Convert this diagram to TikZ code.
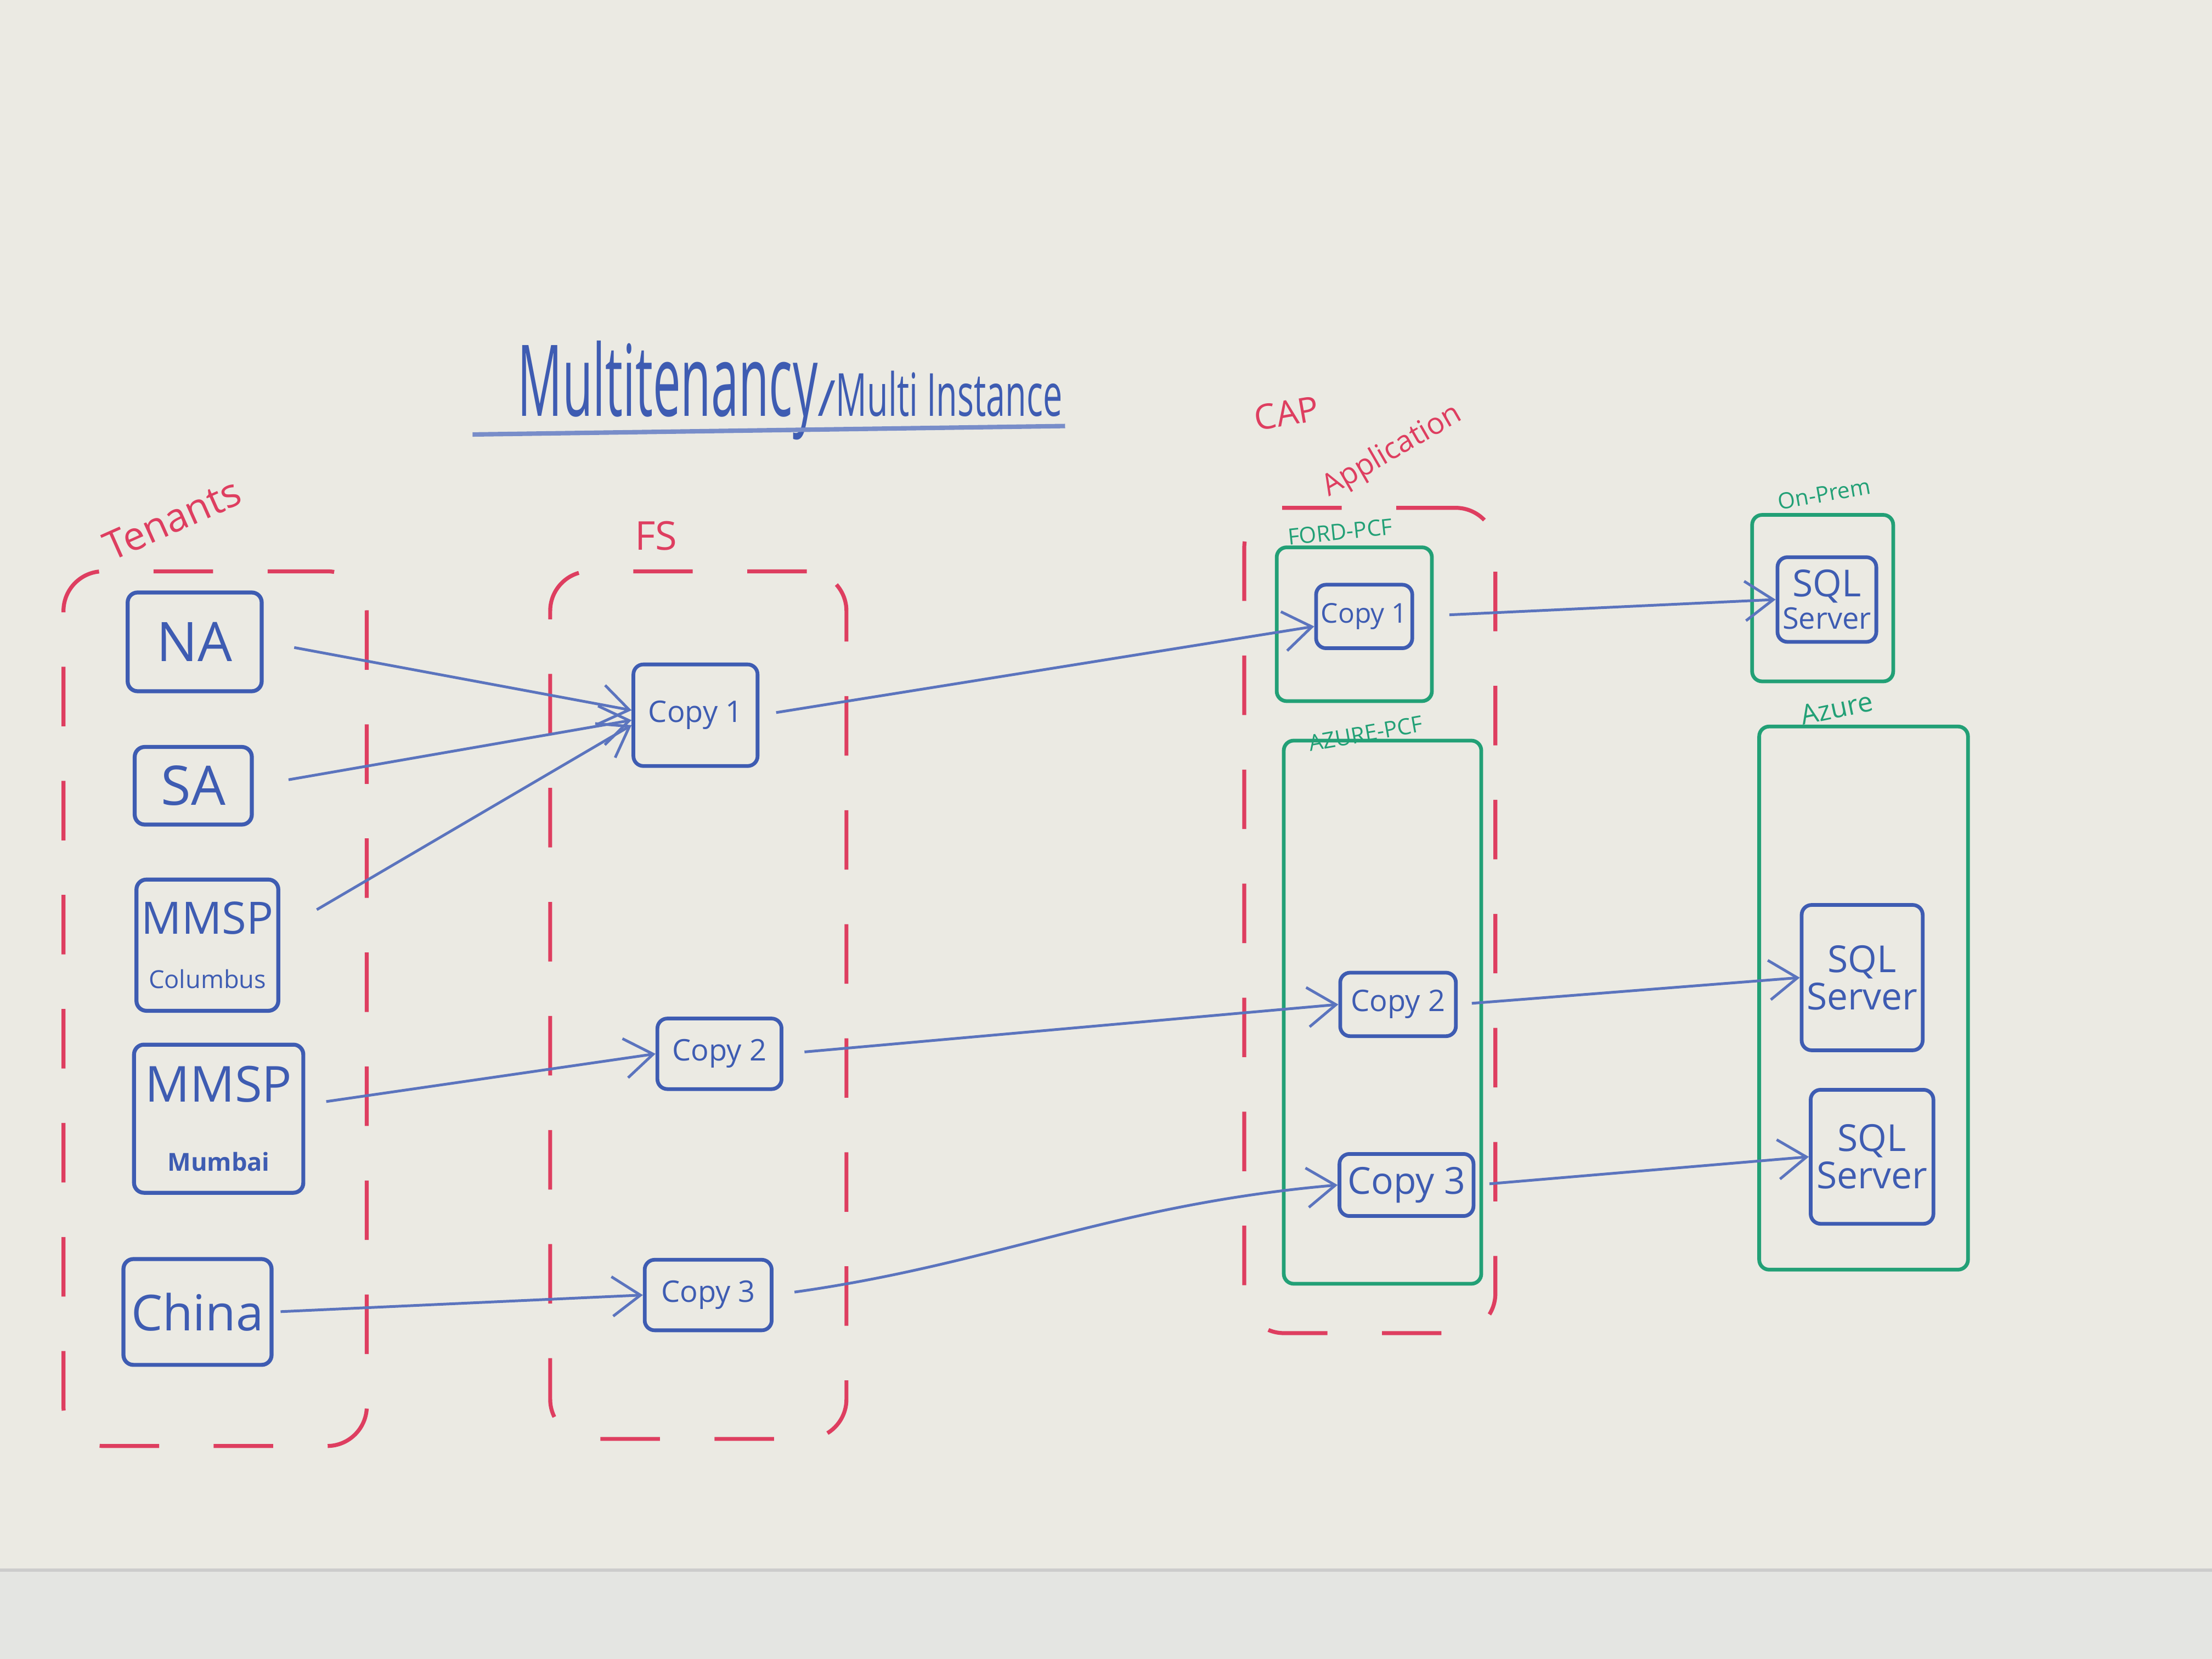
\documentclass[tikz,border=0pt]{standalone}
\usepackage{fontspec}
\setmainfont{Open Sans}
\usetikzlibrary{arrows.meta}
\definecolor{board}{RGB}{235,234,227}
\definecolor{tray}{RGB}{228,229,226}
\definecolor{markblue}{RGB}{62,92,178}
\definecolor{markred}{RGB}{222,62,96}
\definecolor{markgreen}{RGB}{34,160,118}
\newcommand{\fsz}[1]{\fontsize{#1}{#1}\selectfont}
\tikzset{
  tenant/.style={draw=markblue,line width=0.8pt,rounded corners=2pt,inner sep=1pt,align=center,text=markblue},
  copybox/.style={tenant,line width=0.75pt,font=\fsz{6}},
  sqlbox/.style={tenant,line width=0.75pt,font=\fsz{7.5},rounded corners=2pt},
  grp/.style={draw=markred,dash pattern=on 12pt off 11pt,line width=0.8pt,rounded corners=8pt},
  cloud/.style={draw=markgreen,line width=0.75pt,rounded corners=2pt},
  grplabel/.style={text=markred,font=\fsz{8}},
  cloudlabel/.style={text=markgreen,font=\fsz{4.5}},
  flow/.style={draw=markblue!85,line width=0.55pt,-{Straight Barb[length=2mm,width=2.8mm]}}
}
\begin{document}
\begin{tikzpicture}
  % whiteboard
  \fill[board] (0,0) rectangle (15.68,-11.76);
  \useasboundingbox (0,0) rectangle (15.68,-11.76);
  \fill[tray] (0,-11.13) rectangle (15.68,-11.76);
  \draw[gray!40,line width=0.6pt] (0,-11.13) -- (15.68,-11.13);

  % title
  \node[text=markblue,inner sep=1pt,anchor=base] (title) at (5.6,-2.95)
    {{\fsz{20}\scalebox{0.5}[1]{Multitenancy}}/{\fsz{12}\scalebox{0.58}[1]{Multi Instance}}};
  \draw[markblue!70,line width=0.9pt] (3.35,-3.08) -- (7.55,-3.02);

  % groups
  \node[grp,minimum width=2.15cm,minimum height=6.2cm] (tenants) at (1.525,-7.15) {};
  \node[grplabel,rotate=24] (tenantslbl) at (1.22,-3.68) {Tenants};
  \node[grp,minimum width=2.1cm,minimum height=6.15cm] (fs) at (4.95,-7.125) {};
  \node[grplabel] (fslbl) at (4.65,-3.8) {FS};
  \node[grp,minimum width=1.78cm,minimum height=5.85cm] (cap) at (9.71,-6.525) {};
  \node[grplabel,font=\fsz{7},rotate=10,inner sep=0pt] (caplbl) at (9.12,-2.93) {CAP};
  \node[grplabel,font=\fsz{6},rotate=30,inner sep=0pt] (applbl) at (9.87,-3.2) {Application};

  \node[cloud,minimum width=1.1cm,minimum height=1.09cm] (ford) at (9.6,-4.425) {};
  \node[cloudlabel,rotate=6] (fordlbl) at (9.5,-3.77) {FORD-PCF};
  \node[cloud,minimum width=1.4cm,minimum height=3.85cm] (azpcf) at (9.8,-7.175) {};
  \node[cloudlabel,rotate=10] (azpcflbl) at (9.68,-5.2) {AZURE-PCF};
  \node[cloud,minimum width=1.0cm,minimum height=1.18cm] (onprem) at (12.92,-4.24) {};
  \node[cloudlabel,rotate=10] (onpremlbl) at (12.93,-3.5) {On-Prem};
  \node[cloud,minimum width=1.48cm,minimum height=3.85cm] (azure) at (13.21,-7.075) {};
  \node[cloudlabel,font=\fsz{5.5},rotate=12] (azurelbl) at (13.02,-5.02) {Azure};

  % tenants
  \node[tenant,font=\fsz{11},minimum width=0.95cm,minimum height=0.7cm] (na) at (1.38,-4.55) {NA};
  \node[tenant,font=\fsz{11},minimum width=0.83cm,minimum height=0.55cm] (sa) at (1.37,-5.57) {SA};
  \node[tenant,minimum width=1.0cm,minimum height=0.93cm] (colum) at (1.47,-6.7)
    {{\fsz{9}MMSP}\\[-1pt]{\fsz{5}Columbus}};
  \node[tenant,minimum width=1.2cm,minimum height=1.05cm] (mumbai) at (1.55,-7.93)
    {{\fsz{10}MMSP}\\[2pt]{\fsz{5}\bfseries Mumbai}};
  \node[tenant,font=\fsz{10},minimum width=1.05cm,minimum height=0.75cm] (china) at (1.40,-9.30) {China};

  % copies
  \node[copybox,minimum width=0.88cm,minimum height=0.72cm] (fsA) at (4.93,-5.07) {Copy 1};
  \node[copybox,minimum width=0.88cm,minimum height=0.5cm] (fsB) at (5.10,-7.47) {Copy 2};
  \node[copybox,minimum width=0.9cm,minimum height=0.5cm] (fsC) at (5.02,-9.18) {Copy 3};
  \node[copybox,font=\fsz{5.5},minimum width=0.65cm,minimum height=0.45cm] (capA) at (9.67,-4.37) {Copy 1};
  \node[copybox,minimum width=0.82cm,minimum height=0.45cm] (capB) at (9.91,-7.12) {Copy 2};
  \node[copybox,font=\fsz{7.5},minimum width=0.95cm,minimum height=0.44cm] (capC) at (9.97,-8.40) {Copy 3};

  % databases
  \node[sqlbox,minimum width=0.66cm,minimum height=0.6cm] (sqlA) at (12.95,-4.25) {SQL\\[-1pt]{\fsz{6}Server}};
  \node[sqlbox,minimum width=0.8cm,minimum height=1.03cm] (sqlB) at (13.20,-6.93) {SQL\\Server};
  \node[sqlbox,minimum width=0.87cm,minimum height=0.95cm] (sqlC) at (13.27,-8.20) {SQL\\Server};

  % flows
  \draw[flow,shorten <=0.22cm] (na.east) -- ([yshift=1pt]fsA.west);
  \draw[flow,shorten <=0.25cm] (sa.east) -- ([yshift=-1pt]fsA.west);
  \draw[flow,shorten <=0.3cm] ([yshift=0.1cm]colum.east) -- ([yshift=-2pt]fsA.west);
  \draw[flow,shorten <=0.15cm] ([yshift=0.1cm]mumbai.east) -- (fsB.west);
  \draw[flow,shorten <=0.05cm] (china.east) -- (fsC.west);
  \draw[flow,shorten <=0.12cm] (fsA.east) -- ([yshift=-2pt]capA.west);
  \draw[flow,shorten <=0.15cm] (fsB.east) -- (capB.west);
  \draw[flow,shorten <=0.15cm] (fsC.east) to[out=8,in=185] (capC.west);
  \draw[flow,shorten <=0.25cm] (capA.east) -- (sqlA.west);
  \draw[flow,shorten <=0.1cm] (capB.east) -- (sqlB.west);
  \draw[flow,shorten <=0.1cm] (capC.east) -- (sqlC.west);
\end{tikzpicture}
\end{document}
